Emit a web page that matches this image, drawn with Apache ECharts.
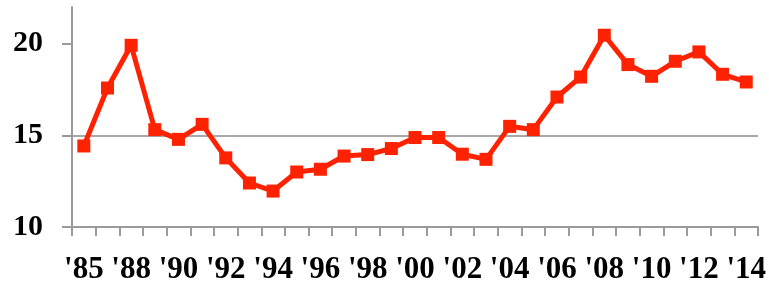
<!DOCTYPE html>
<html>
<head>
<meta charset="utf-8">
<script src="https://cdn.jsdelivr.net/npm/echarts@6/dist/echarts.min.js"></script>
<style>
html,body{margin:0;padding:0;background:#fff;}
#c{width:769px;height:285px;}
</style>
</head>
<body>
<div id="c"></div>
<script>
const categories = ["'85","'87","'88","'89","'90","'91","'92","'93","'94","'95","'96","'97","'98","'99","'00","'01","'02","'03","'04","'05","'06","'07","'08","'09","'10","'11","'12","'13","'14"];
const values = [14.42,17.58,19.91,15.31,14.78,15.6,13.77,12.4,11.96,13.0,13.15,13.87,13.95,14.28,14.88,14.88,13.97,13.69,15.49,15.31,17.09,18.18,20.46,18.86,18.22,19.04,19.55,18.33,17.91];
const yTicks = [10,15,20];

const chart = echarts.init(document.getElementById('c'));
const font = '"Liberation Serif", "Times New Roman", serif';
chart.setOption({
  animation:false,
  grid:{left:72,right:9,top:7,bottom:58,containLabel:false},
  xAxis:{
    type:'category',
    data:categories,
    boundaryGap:true,
    axisLine:{lineStyle:{color:'#9a9a9a',width:2}},
    axisTick:{show:true,interval:0,length:9,lineStyle:{color:'#9a9a9a',width:2}},
    axisLabel:{interval:1,margin:27,color:'#000',fontFamily:font,fontWeight:'bold',fontSize:31},
    splitLine:{show:false}
  },
  yAxis:{
    type:'value',
    min:10,max:22,interval:5,
    axisLine:{show:true,lineStyle:{color:'#9a9a9a',width:2}},
    axisTick:{show:true,length:10,lineStyle:{color:'#9a9a9a',width:2},
      customValues:yTicks},
    axisLabel:{margin:29,color:'#000',fontFamily:font,fontWeight:'bold',fontSize:30,
      customValues:yTicks},
    splitLine:{show:true,showMinLine:false,showMaxLine:false,lineStyle:{color:'#a8a8a8',width:2}}
  },
  series:[{
    type:'line',
    data:values,
    symbol:'rect',
    symbolSize:13,
    itemStyle:{color:'#ff2200'},
    lineStyle:{color:'#ff2200',width:5},
    z:3
  }]
});
</script>
</body>
</html>
